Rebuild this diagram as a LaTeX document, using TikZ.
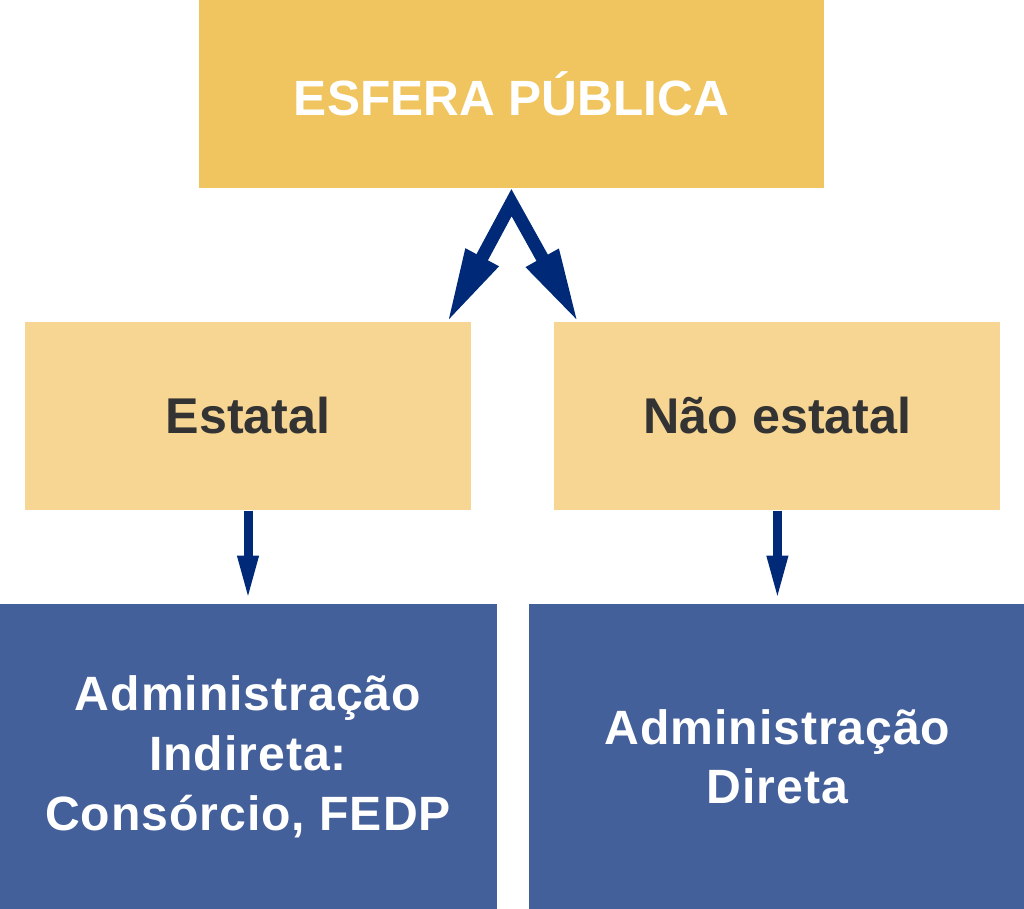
\documentclass[tikz,border=0pt]{standalone}
\usepackage{fontspec}
\setmainfont{Liberation Sans}
\usetikzlibrary{arrows.meta,positioning}
\usepackage{xcolor}
\definecolor{Gold}{HTML}{F0C45E}
\definecolor{LtGold}{HTML}{F7D694}
\definecolor{SlateBlue}{HTML}{44609A}
\definecolor{DkNavy}{HTML}{002A78}
\definecolor{TxtGray}{HTML}{333333}

\begin{document}
\begin{tikzpicture}[
  cbox/.style={minimum width=4.46cm, minimum height=1.88cm, inner sep=0pt,
               align=center},
  topbox/.style={cbox, fill=Gold, minimum width=6.25cm, text=white,
                 font=\fontsize{14.1}{16}\selectfont\bfseries},
  midbox/.style={cbox, fill=LtGold, text=TxtGray,
                 font=\fontsize{14.3}{17}\selectfont\bfseries},
  lowbox/.style={cbox, fill=SlateBlue, minimum width=4.97cm, minimum height=3.05cm,
                 text=white,
                 font=\fontsize{13.7}{17}\selectfont\bfseries\addfontfeature{LetterSpace=2}},
  node distance=0.93cm and 0.82cm
]
  \useasboundingbox (0,0) rectangle (10.24,9.08);
  \node[topbox]               (esf)  at (5.115,8.14) {ESFERA PÚBLICA};
  \node[midbox]               (est)  at (2.48,4.92)  {Estatal};
  \node[midbox, right=of est] (nest) {Não estatal};
  \node[lowbox, below=of est]  (adi) {Administração\\Indireta:\\Consórcio, FEDP};
  \node[lowbox, below=of nest] (add) {Administração\\Direta};
  \coordinate[below=0.14cm of esf.south] (apex);
  \coordinate (lt) at ([xshift=-0.25cm, yshift=-0.02cm]est.north east);
  \coordinate (rt) at ([xshift=0.25cm, yshift=-0.02cm]nest.north west);
  \draw[DkNavy, line width=0.13cm,
        {Triangle[width=0.34cm, length=0.75cm]}-{Triangle[width=0.34cm, length=0.75cm]}]
        (lt) -- (apex) -- (rt);
  \draw[DkNavy, line width=0.09cm, -{Triangle[width=0.19cm, length=0.45cm]}]
        (est.south) -- ([yshift=0.03cm]adi.north);
  \draw[DkNavy, line width=0.09cm, -{Triangle[width=0.19cm, length=0.45cm]}]
        (nest.south) -- ([yshift=0.03cm]add.north);
\end{tikzpicture}
\end{document}
